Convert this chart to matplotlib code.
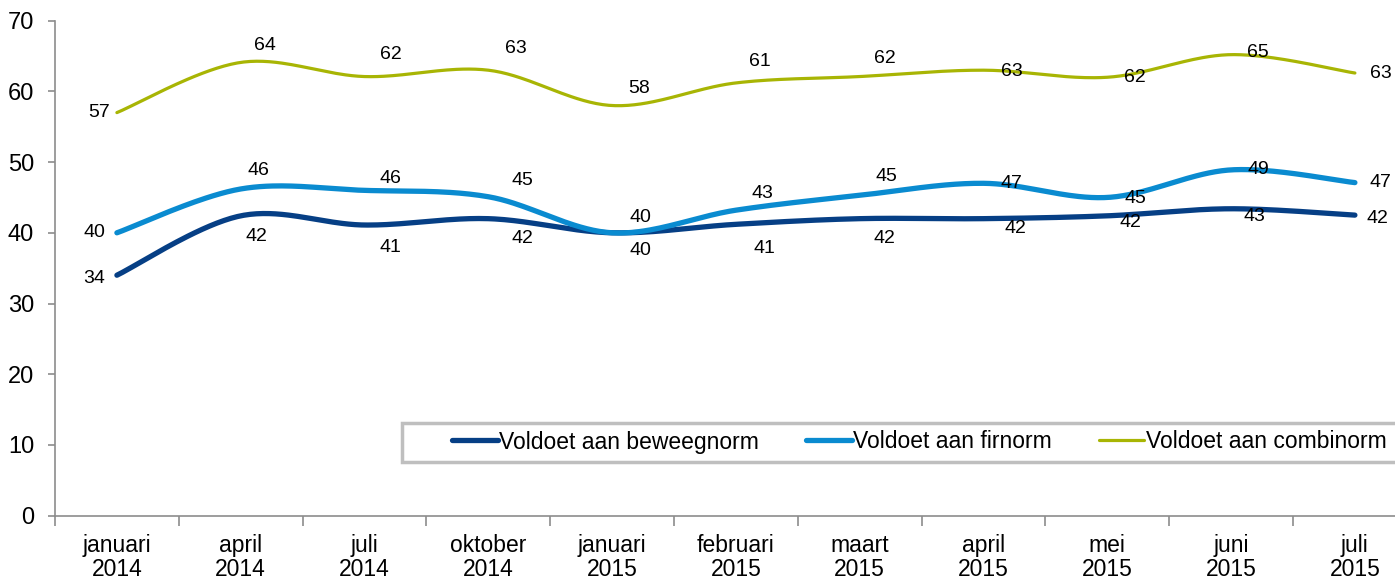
import numpy as np
import matplotlib
matplotlib.use('Agg')
import matplotlib.pyplot as plt
from matplotlib.patches import Rectangle

plt.rcParams['font.family'] = ['Liberation Sans', 'DejaVu Sans']

# ----------------------------- data -----------------------------
maanden = ['januari\n2014', 'april\n2014', 'juli\n2014', 'oktober\n2014',
           'januari\n2015', 'februari\n2015', 'maart\n2015', 'april\n2015',
           'mei\n2015', 'juni\n2015', 'juli\n2015']

beweegnorm = [34, 42.4, 41.1, 42.0, 40.0, 41.2, 42.0, 42.0, 42.4, 43.4, 42.5]
firnorm = [40, 46.2, 46.0, 45.1, 40.0, 43.2, 45.3, 47.0, 45.0, 48.9, 47.1]
combinorm = [57, 64.1, 62.1, 63.0, 58.0, 61.2, 62.1, 63.0, 62.0, 65.2, 62.6]

namen = ['Voldoet aan beweegnorm', 'Voldoet aan firnorm', 'Voldoet aan combinorm']

# ----------------------------- layout -----------------------------
kleuren = ['#063F85', '#0A8BD0', '#A8B504']
dikte = [3.8, 3.8, 2.3]

# label offsets in pixels (dx, dy naar beneden)
off_beweeg = [(-23, 3), (16, 21), (26, 22), (34, 20), (28, 18), (29, 24),
              (25, 20), (32, 10), (23, 7), (23, 8), (23, 3)]
off_fir = [(-22, 0), (18, -18), (26, -12), (34, -16), (28, -15), (27, -17),
           (27, -19), (28, 0), (28, 1), (27, 0), (26, 0)]
off_combi = [(-18, 0), (24, -17), (26, -22), (28, -22), (27, -17), (24, -21),
             (25, -18), (28, 1), (28, 0), (27, -2), (26, 0)]


def glad(x, y, n=40):
    # bezier smoothing zoals in excel (catmull-rom)
    x = np.asarray(x, float)
    y = np.asarray(y, float)
    px = np.concatenate([[x[0]], x, [x[-1]]])
    py = np.concatenate([[y[0]], y, [y[-1]]])
    xs, ys = [], []
    t = np.linspace(0, 1, n)
    for i in range(1, len(x)):
        p0 = np.array([px[i], py[i]])
        p3 = np.array([px[i + 1], py[i + 1]])
        c1 = p0 + (np.array([px[i + 1], py[i + 1]]) - np.array([px[i - 1], py[i - 1]])) / 6.
        c2 = p3 - (np.array([px[i + 2], py[i + 2]]) - np.array([px[i], py[i]])) / 6.
        b = ((1 - t) ** 3)[:, None] * p0 + (3 * (1 - t) ** 2 * t)[:, None] * c1 \
            + (3 * (1 - t) * t ** 2)[:, None] * c2 + (t ** 3)[:, None] * p3
        xs.extend(b[:, 0])
        ys.extend(b[:, 1])
    return np.array(xs), np.array(ys)


W, H = 1395, 579
fig = plt.figure(figsize=(W / 100., H / 100.), dpi=100)
ax = fig.add_axes([55. / W, 1 - 515.6 / H, 11 * 123.8 / W, (515.6 - 20.7) / H])

x = np.arange(len(maanden))
reeksen = [beweegnorm, firnorm, combinorm]
offsets = [off_beweeg, off_fir, off_combi]

for reeks, naam, kl, lw, offs in zip(reeksen, namen, kleuren, dikte, offsets):
    sx, sy = glad(x, reeks)
    ax.plot(sx, sy, color=kl, lw=lw, solid_capstyle='round', label=naam, zorder=3)
    for xi, yi, (dx, dy) in zip(x, reeks, offs):
        ax.annotate('%.0f' % yi, (xi, yi), xytext=(dx, -dy), textcoords='offset pixels',
                    ha='center', va='center', fontsize=14, color='black', zorder=6)

ax.set_xlim(-0.5, 10.5)
ax.set_ylim(0, 70)
ax.set_yticks(range(0, 71, 10))
ax.set_xticks(x)
ax.set_xticklabels(maanden, linespacing=1.1)
ax.set_xticks(np.arange(-0.5, 11, 1), minor=True)

for s in ['top', 'right']:
    ax.spines[s].set_visible(False)
for s in ['left', 'bottom']:
    ax.spines[s].set_color('#8C8C8C')
    ax.spines[s].set_linewidth(1.2)

ax.tick_params(axis='y', length=5, width=1.2, color='#8C8C8C', labelsize=17, pad=10)
ax.tick_params(axis='x', which='major', length=0, labelsize=16.5, pad=13)
ax.tick_params(axis='x', which='minor', length=7, width=1.2, color='#8C8C8C')

# legenda met kader
kader = Rectangle((402. / W, 1 - 462. / H), 1030. / W, 39. / H, transform=fig.transFigure,
                  facecolor='white', edgecolor='#BFBFBF', lw=2.5, clip_on=False, zorder=4)
ax.add_patch(kader)
leg = ax.legend(loc='center left', bbox_to_anchor=(452. / W, 1 - 442. / H),
                bbox_transform=fig.transFigure, ncol=3, frameon=False, fontsize=16.5,
                handlelength=2.0, handletextpad=0.05, columnspacing=2.05, borderpad=0,
                borderaxespad=0)
leg.set_zorder(5)

fig.savefig('out.png', dpi=100)
